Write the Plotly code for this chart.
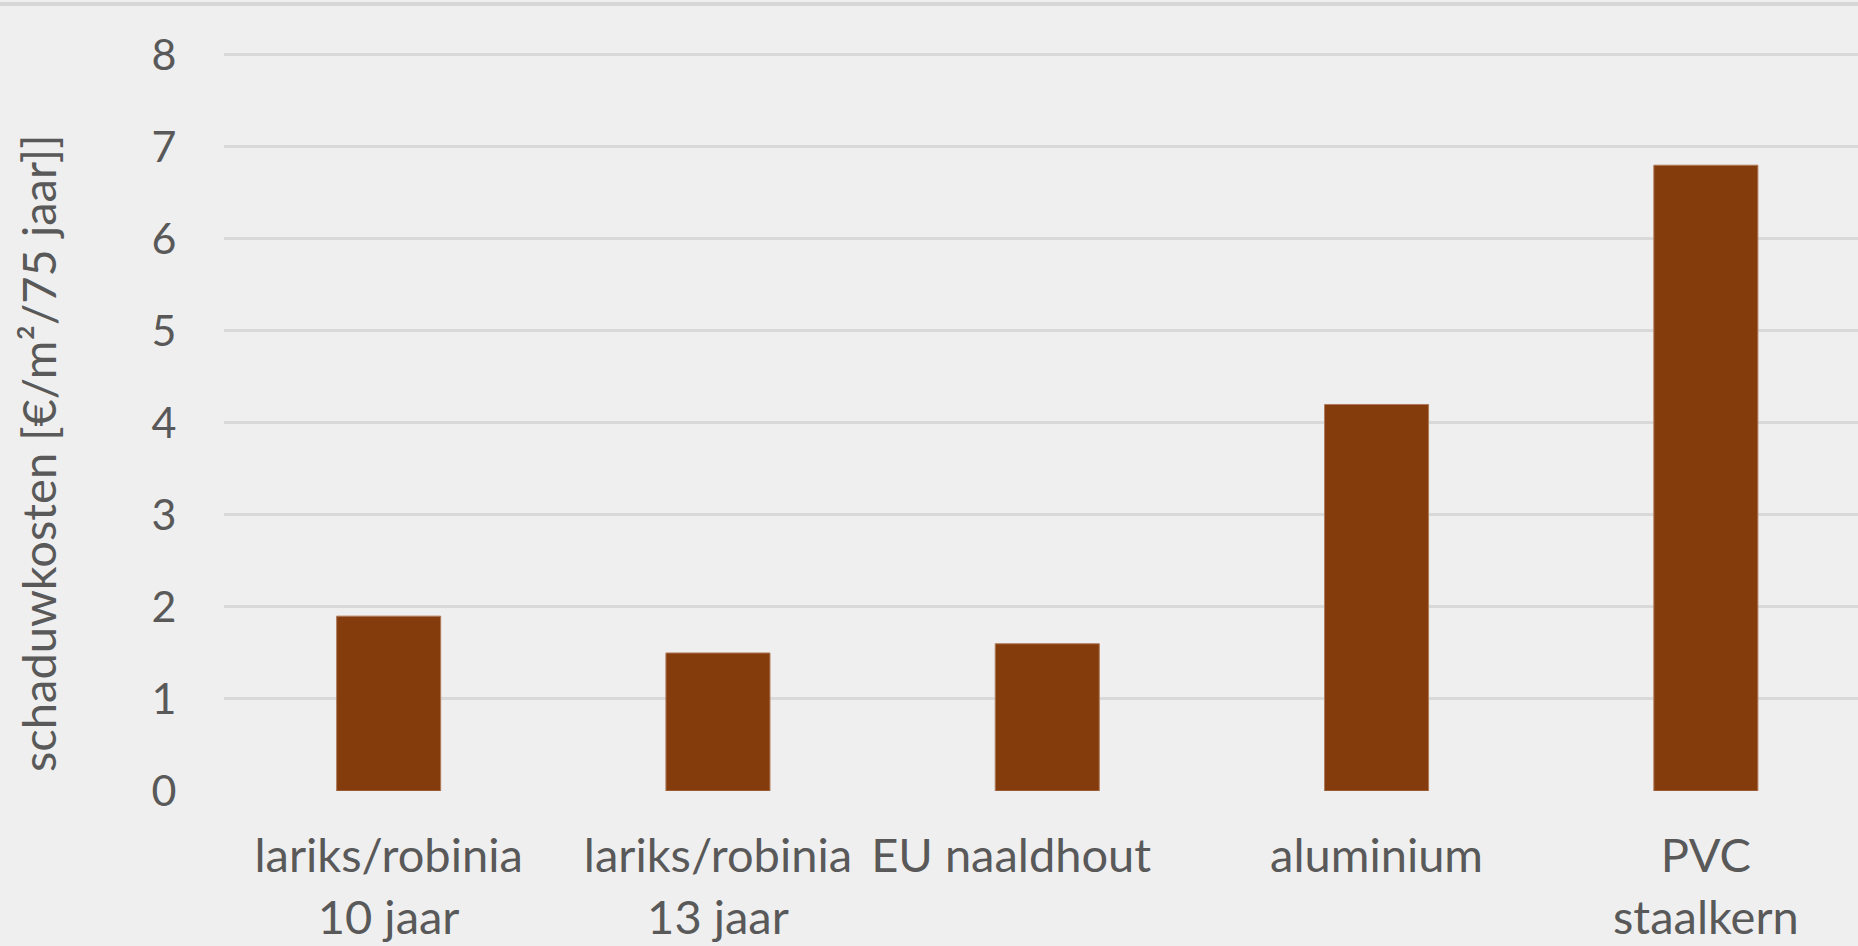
import plotly.graph_objects as go

categories = ["lariks/robinia<br>10 jaar", "lariks/robinia<br>13 jaar", "EU naaldhout", "aluminium", "PVC<br>staalkern"]
values = [1.9, 1.5, 1.6, 4.2, 6.8]
y_ticks = [0, 1, 2, 3, 4, 5, 6, 7, 8]
y_title = "schaduwkosten [€/m²/75 jaar]]"

FONT = "Lato"
TXT = "#595959"
BG = "#efefef"

T, B = 52, 155
PH = 946 - T - B

# the reference renders "EU naaldhout" slightly left of its bar centre
tick_text = [c + "\u00a0" * 6 if c == "EU naaldhout" else c for c in categories]

fig = go.Figure()
fig.add_trace(go.Bar(
    x=list(range(len(categories))),
    y=values,
    marker=dict(color="#843C0C", line=dict(color="#b07a5a", width=1)),
    width=0.316,
    hoverinfo="skip",
))

fig.update_layout(
    width=1858, height=946,
    paper_bgcolor=BG, plot_bgcolor=BG,
    margin=dict(l=224, r=0, t=T, b=B),
    showlegend=False,
    font=dict(family=FONT, color=TXT, size=46),
    xaxis=dict(
        range=[-0.5, 4.462],
        tickmode="array",
        tickvals=list(range(len(categories))),
        ticktext=tick_text,
        showgrid=False, zeroline=False, showline=False,
        ticks="outside", ticklen=24, tickcolor="rgba(0,0,0,0)",
        tickfont=dict(family=FONT, color=TXT, size=47),
        fixedrange=True,
    ),
    yaxis=dict(
        range=[0, 8.03],
        tickmode="array",
        tickvals=y_ticks,
        ticktext=[str(v) for v in y_ticks],
        showgrid=True, gridcolor="#d9d9d9", gridwidth=3,
        zeroline=False, showline=False,
        ticks="outside", ticklen=38, tickcolor="rgba(0,0,0,0)",
        tickfont=dict(family=FONT, color=TXT, size=43),
        fixedrange=True,
    ),
    annotations=[dict(
        text=y_title, textangle=-90,
        xref="paper", yref="paper",
        x=(38 - 224) / 1634, y=(791 - 453) / PH,
        xanchor="center", yanchor="middle",
        showarrow=False,
        font=dict(family=FONT, color=TXT, size=47),
    )],
    shapes=[dict(
        type="line", xref="paper", yref="paper",
        x0=-1, x1=1.01, y0=(791 - 4) / PH, y1=(791 - 4) / PH,
        line=dict(color="#d6d6d6", width=4),
    )],
)

fig.write_html(
    "out.html",
    config={"displayModeBar": False},
    post_script="document.body.style.margin='0';document.body.style.overflow='hidden';",
)
